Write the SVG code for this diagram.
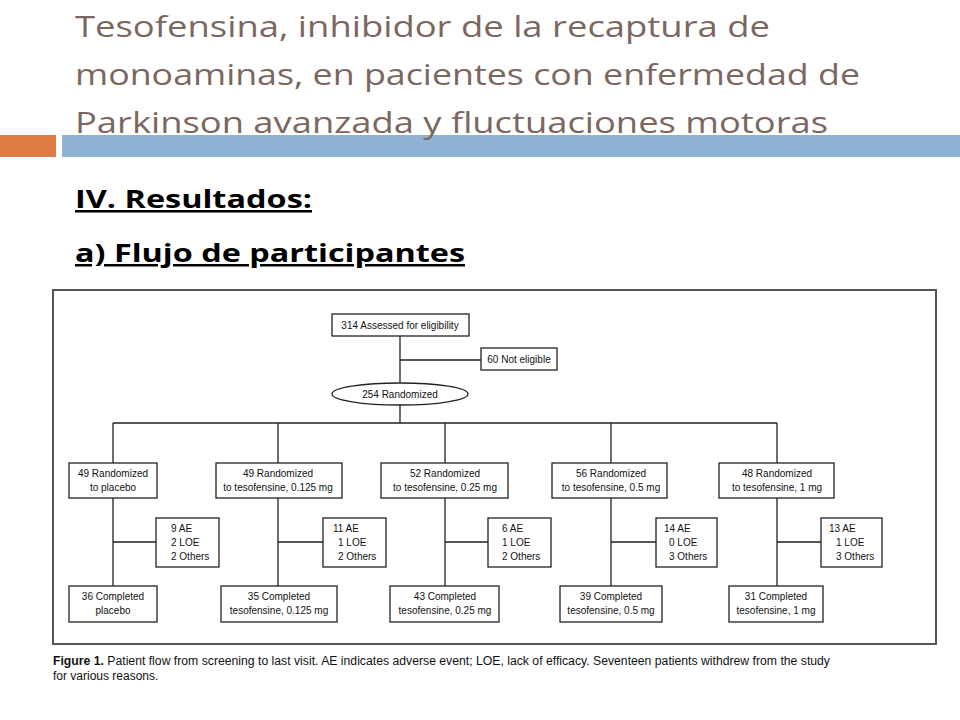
<svg xmlns="http://www.w3.org/2000/svg" width="960" height="720" viewBox="0 0 960 720">
<style>
.t{font-family:"Open Sans","Liberation Sans",sans-serif;font-size:30px;fill:#7b675f}
.h{font-family:"Open Sans","Liberation Sans",sans-serif;font-size:25px;font-weight:bold;fill:#000;text-decoration:underline}
.b{fill:#fff;stroke:#222;stroke-width:1.3}
.n{font-family:"Liberation Sans",Arial,sans-serif;font-size:10px;fill:#111}
.c{stroke:#222;stroke-width:1.3;fill:none}
.cap{font-family:"Liberation Sans",Arial,sans-serif;font-size:12px;fill:#111}
</style>
<rect width="960" height="720" fill="#fff"/>
<rect x="0" y="135" width="56" height="22" fill="#e07b45"/>
<rect x="62" y="135" width="898" height="22" fill="#8fb1d3"/>
<text class="t" x="75" y="37" textLength="695" lengthAdjust="spacingAndGlyphs">Tesofensina, inhibidor de la recaptura de</text>
<text class="t" x="75" y="85" textLength="785" lengthAdjust="spacingAndGlyphs">monoaminas, en pacientes con enfermedad de</text>
<text class="t" x="75" y="133" textLength="753" lengthAdjust="spacingAndGlyphs">Parkinson avanzada y fluctuaciones motoras</text>
<text class="h" x="75" y="208" textLength="237" lengthAdjust="spacingAndGlyphs">IV. Resultados:</text>
<text class="h" x="75" y="262" textLength="390" lengthAdjust="spacingAndGlyphs">a) Flujo de participantes</text>
<rect x="53" y="290" width="883" height="354" fill="none" stroke="#555" stroke-width="2"/>
<g id="connectors" class="c">
<path d="M400 336V383M400 360H481M400 405V423M113 423H777"/>
<path d="M113 423V463M278 423V463M445 423V463M611 423V463M777 423V463"/>
<path d="M113 498V586M278 498V586M445 498V586M611 498V586M777 498V586"/>
<path d="M113 542H156M278 542H323M445 542H488M611 542H656M777 542H821"/>
</g>
<g id="assessed"><rect class="b" x="332" y="314" width="137" height="22"/><text class="n" x="400" y="329" text-anchor="middle">314 Assessed for eligibility</text></g>
<g id="noteligible"><rect class="b" x="481" y="348" width="76" height="22"/><text class="n" x="519" y="363" text-anchor="middle">60 Not eligible</text></g>
<g id="randomized"><ellipse class="b" cx="400" cy="394" rx="68" ry="11"/><text class="n" x="400" y="398" text-anchor="middle">254 Randomized</text></g>
<g id="r1"><rect class="b" x="69" y="463" width="88" height="35"/><text class="n" x="113" y="477" text-anchor="middle">49 Randomized</text><text class="n" x="113" y="491" text-anchor="middle">to placebo</text></g>
<g id="r2"><rect class="b" x="216" y="463" width="126" height="35"/><text class="n" x="278" y="477" text-anchor="middle">49 Randomized</text><text class="n" x="278" y="491" text-anchor="middle">to tesofensine, 0.125 mg</text></g>
<g id="r3"><rect class="b" x="381" y="463" width="127" height="35"/><text class="n" x="445" y="477" text-anchor="middle">52 Randomized</text><text class="n" x="445" y="491" text-anchor="middle">to tesofensine, 0.25 mg</text></g>
<g id="r4"><rect class="b" x="552" y="463" width="115" height="35"/><text class="n" x="611" y="477" text-anchor="middle">56 Randomized</text><text class="n" x="611" y="491" text-anchor="middle">to tesofensine, 0.5 mg</text></g>
<g id="r5"><rect class="b" x="719" y="463" width="115" height="35"/><text class="n" x="777" y="477" text-anchor="middle">48 Randomized</text><text class="n" x="777" y="491" text-anchor="middle">to tesofensine, 1 mg</text></g>
<g id="s1"><rect class="b" x="156" y="518" width="63" height="49"/><text class="n" x="171" y="532">9 AE</text><text class="n" x="171" y="546">2 LOE</text><text class="n" x="171" y="560">2 Others</text></g>
<g id="s2"><rect class="b" x="323" y="518" width="63" height="49"/><text class="n" x="333" y="532">11 AE</text><text class="n" x="338" y="546">1 LOE</text><text class="n" x="338" y="560">2 Others</text></g>
<g id="s3"><rect class="b" x="488" y="518" width="63" height="49"/><text class="n" x="502" y="532">6 AE</text><text class="n" x="502" y="546">1 LOE</text><text class="n" x="502" y="560">2 Others</text></g>
<g id="s4"><rect class="b" x="656" y="518" width="61" height="49"/><text class="n" x="664" y="532">14 AE</text><text class="n" x="669" y="546">0 LOE</text><text class="n" x="669" y="560">3 Others</text></g>
<g id="s5"><rect class="b" x="821" y="518" width="61" height="49"/><text class="n" x="829" y="532">13 AE</text><text class="n" x="836" y="546">1 LOE</text><text class="n" x="836" y="560">3 Others</text></g>
<g id="c1"><rect class="b" x="69" y="586" width="88" height="36"/><text class="n" x="113" y="600" text-anchor="middle">36 Completed</text><text class="n" x="113" y="614" text-anchor="middle">placebo</text></g>
<g id="c2"><rect class="b" x="221" y="586" width="116" height="36"/><text class="n" x="279" y="600" text-anchor="middle">35 Completed</text><text class="n" x="279" y="614" text-anchor="middle">tesofensine, 0.125 mg</text></g>
<g id="c3"><rect class="b" x="390" y="586" width="109" height="36"/><text class="n" x="445" y="600" text-anchor="middle">43 Completed</text><text class="n" x="445" y="614" text-anchor="middle">tesofensine, 0.25 mg</text></g>
<g id="c4"><rect class="b" x="560" y="586" width="102" height="36"/><text class="n" x="611" y="600" text-anchor="middle">39 Completed</text><text class="n" x="611" y="614" text-anchor="middle">tesofensine, 0.5 mg</text></g>
<g id="c5"><rect class="b" x="729" y="586" width="94" height="36"/><text class="n" x="776" y="600" text-anchor="middle">31 Completed</text><text class="n" x="776" y="614" text-anchor="middle">tesofensine, 1 mg</text></g>
<text class="cap" x="53" y="665" textLength="777" lengthAdjust="spacingAndGlyphs"><tspan font-weight="bold">Figure 1.</tspan> Patient flow from screening to last visit. AE indicates adverse event; LOE, lack of efficacy. Seventeen patients withdrew from the study</text>
<text class="cap" x="53" y="680">for various reasons.</text>
</svg>
